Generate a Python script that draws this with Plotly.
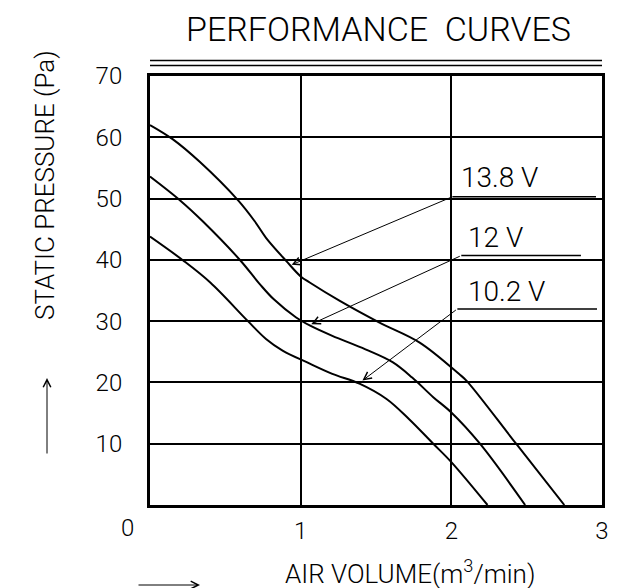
import plotly.graph_objects as go

# ---- data ----
x_138 = [0.0, 0.15, 0.33, 0.585, 0.695, 0.77, 0.905, 1.0, 1.06, 1.26, 1.52, 1.79, 2.05, 2.10, 2.43, 2.75]
y_138 = [62.0, 59.7, 56.0, 49.7, 46.3, 43.6, 39.8, 37.3, 36.3, 33.3, 29.8, 26.5, 21.4, 20.3, 10.0, 0.0]

x_12 = [0.0, 0.2, 0.35, 0.6, 0.73, 0.82, 0.97, 1.06, 1.21, 1.43, 1.61, 1.74, 1.88, 2.0, 2.19, 2.49]
y_12 = [53.6, 49.7, 46.3, 39.9, 36.0, 33.6, 30.6, 29.3, 27.6, 25.4, 23.3, 20.8, 17.6, 15.1, 10.0, 0.0]

x_102 = [0.0, 0.22, 0.40, 0.65, 0.77, 0.88, 1.04, 1.21, 1.39, 1.57, 1.72, 1.88, 2.0, 2.24]
y_102 = [43.8, 39.9, 36.3, 30.0, 27.1, 25.2, 23.3, 21.4, 19.8, 17.3, 14.0, 10.0, 7.0, 0.0]

x_tick_vals = [1, 2, 3]
x_tick_text = ["1", "2", "3"]
y_tick_vals = [10, 20, 30, 40, 50, 60, 70]
y_tick_text = ["10", "20", "30", "40", "50", "60", "70"]

labels = ["13.8 V", "12 V", "10.2 V"]
label_x = [2.05, 2.10, 2.10]          # left edge of label text
label_y = [53.4, 43.6, 34.9]          # text centre
underline_x0 = [2.007, 2.066, 2.04]
underline_x1 = [2.96, 2.86, 2.967]
underline_y = [50.3, 40.7, 32.0]
tip_x = [0.94, 1.07, 1.41]
tip_y = [39.2, 29.5, 20.3]

FONT = "Roboto"
# the page body adds an 8 px offset; plot area is placed so it lands at 150..602 x 76..505
OFF = 8
PL, PT, PW, PH = 150, 76, 452, 429


def px(xp):
    return (xp - PL) / PW


def py(yp):
    return (PT + PH - yp) / PH


fig = go.Figure()
for xs, ys in [(x_138, y_138), (x_12, y_12), (x_102, y_102)]:
    fig.add_trace(go.Scatter(x=xs, y=ys, mode="lines",
                             line=dict(color="black", width=2, shape="spline", smoothing=1.0),
                             showlegend=False, hoverinfo="skip"))

# labels, underlines and leader arrows
for i, t in enumerate(labels):
    fig.add_annotation(x=label_x[i], y=label_y[i], xref="x", yref="y", text=t,
                       showarrow=False, xanchor="left", yanchor="middle",
                       font=dict(family=FONT, size=28, color="black", weight=300))
    fig.add_shape(type="line", xref="x", yref="y",
                  x0=underline_x0[i], x1=underline_x1[i], y0=underline_y[i], y1=underline_y[i],
                  line=dict(color="black", width=1.5))
    fig.add_annotation(x=tip_x[i], y=tip_y[i], xref="x", yref="y",
                       ax=underline_x0[i], ay=underline_y[i], axref="x", ayref="y",
                       text="", showarrow=True, arrowhead=5, arrowsize=1.5,
                       arrowwidth=1, arrowcolor="black")

# double rule above the chart
for yp in [60.5, 65.5]:
    fig.add_shape(type="line", xref="paper", yref="paper", x0=0, x1=1, y0=py(yp), y1=py(yp),
                  line=dict(color="black", width=1.5))

# title
fig.add_annotation(x=px(378), y=py(29), xref="paper", yref="paper",
                   text="PERFORMANCE  CURVES",
                   showarrow=False, xanchor="center", yanchor="middle",
                   font=dict(family=FONT, size=34, color="black", weight=300))

# y axis title (rotated) and its arrow
fig.add_annotation(x=px(45), y=py(185), xref="paper", yref="paper",
                   text="STATIC PRESSURE (Pa)", textangle=-90, showarrow=False,
                   xanchor="center", yanchor="middle",
                   font=dict(family=FONT, size=26, color="black", weight=300))
fig.add_annotation(x=px(47), y=py(378), xref="paper", yref="paper",
                   ax=0, ay=77, text="", showarrow=True, arrowhead=5, arrowsize=1.5,
                   arrowwidth=1, arrowcolor="black")

# x axis title and its arrow
fig.add_annotation(x=px(410), y=py(572), xref="paper", yref="paper",
                   text="AIR VOLUME(m<sup>3</sup>/min)", showarrow=False,
                   xanchor="center", yanchor="middle",
                   font=dict(family=FONT, size=26, color="black", weight=300))
fig.add_annotation(x=px(200), y=py(585), xref="paper", yref="paper",
                   ax=-63, ay=0, text="", showarrow=True, arrowhead=5, arrowsize=1.5,
                   arrowwidth=1, arrowcolor="black")

# origin label
fig.add_annotation(x=0, y=0, xref="x", yref="y", text="0", showarrow=False,
                   xshift=-23, yshift=-23,
                   font=dict(family=FONT, size=24, color="black", weight=300))

fig.update_xaxes(range=[0, 3], tickvals=x_tick_vals, ticktext=x_tick_text,
                 showgrid=True, gridcolor="black", gridwidth=2,
                 showline=True, linecolor="black", linewidth=3, mirror=True,
                 ticks="", ticklabelstandoff=2, zeroline=False, automargin=False,
                 tickfont=dict(family=FONT, size=24, color="black", weight=300))
fig.update_yaxes(range=[0, 70], tickvals=y_tick_vals, ticktext=y_tick_text,
                 showgrid=True, gridcolor="black", gridwidth=2,
                 showline=True, linecolor="black", linewidth=3, mirror=True,
                 ticks="", ticklabelstandoff=20, zeroline=False, automargin=False,
                 tickfont=dict(family=FONT, size=24, color="black", weight=300))

W, H = 622 - OFF, 588 - OFF
fig.update_layout(width=W, height=H,
                  margin=dict(l=PL - OFF, r=W - (PL - OFF) - PW,
                              t=PT - OFF, b=H - (PT - OFF) - PH),
                  paper_bgcolor="white", plot_bgcolor="white", showlegend=False)

fig.write_html("out.html")
